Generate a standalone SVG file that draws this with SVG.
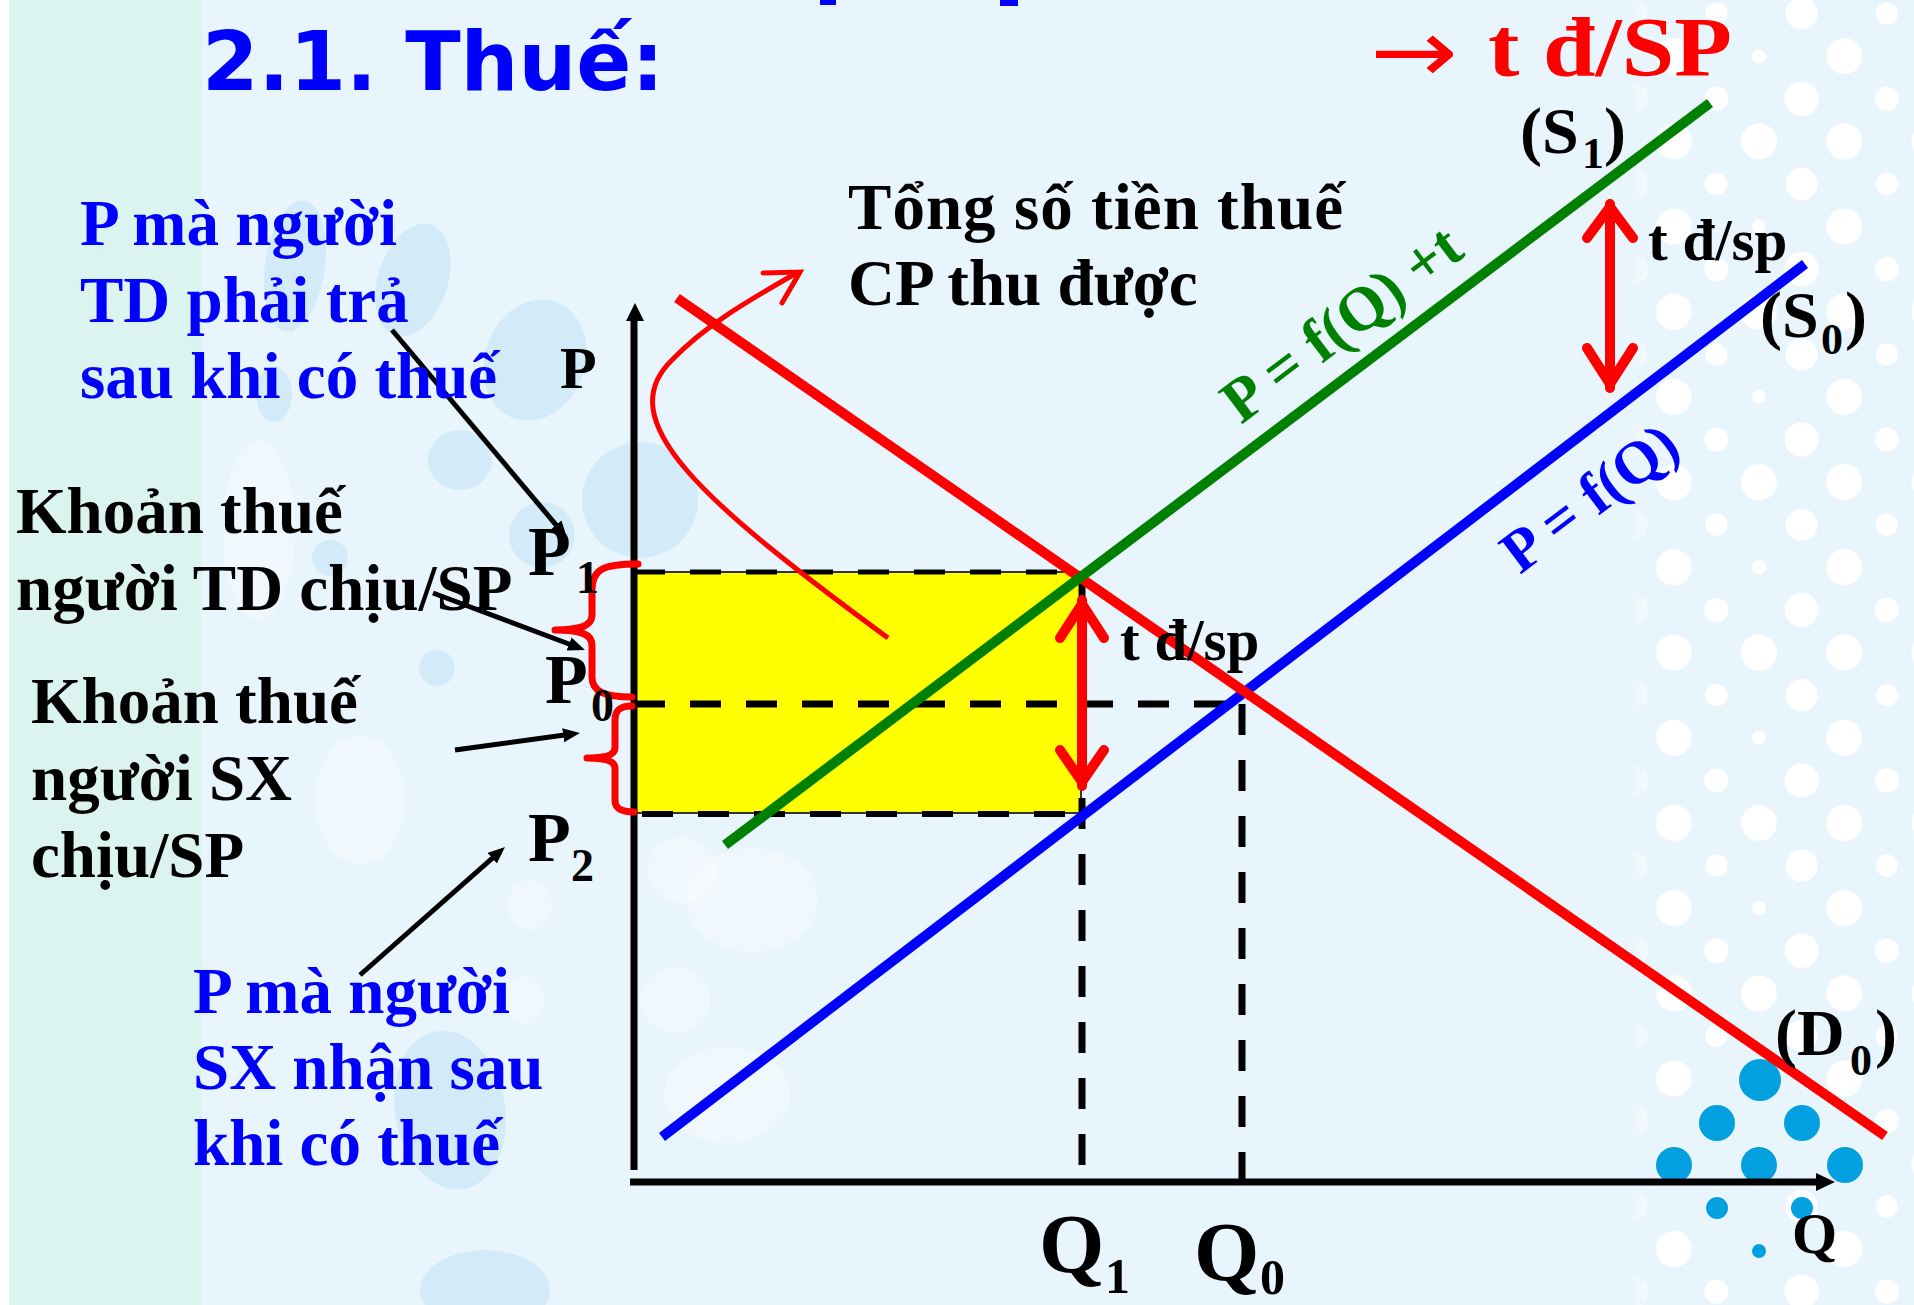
<svg xmlns="http://www.w3.org/2000/svg" width="1914" height="1305" viewBox="0 0 1914 1305">
<defs>
<style>
.t{font-family:"Liberation Serif","Times New Roman",serif;font-weight:bold}
.bl{fill:#0000FF}
.bk{fill:#000000}
.rd{fill:#FF0000}
.gn{fill:#008000}
.dash{stroke:#000;stroke-dasharray:31 25;fill:none}
.curve{fill:none;stroke-linecap:butt}
.arr{fill:none;stroke:#FF0000;stroke-width:10;stroke-linecap:round;stroke-linejoin:miter}
.brace{fill:none;stroke:#FF0000;stroke-width:7;stroke-linecap:round;stroke-linejoin:round}
.pt{fill:none;stroke:#000;stroke-width:5}
.bub{fill:#c4e5f5;opacity:0.6}
.wb{fill:#f7fcfe;opacity:0.5}
.bd{fill:#03A0E0}
</style>
<pattern id="dots" patternUnits="userSpaceOnUse" x="1652.5" y="801.7" width="170.4" height="170.4">
<g fill="#ffffff">
<circle cx="21.3" cy="21.3" r="18"/>
<circle cx="106.5" cy="21.3" r="18"/>
<circle cx="63.9" cy="63.9" r="11"/>
<circle cx="149.1" cy="63.9" r="16"/>
<circle cx="21.3" cy="106.5" r="18"/>
<circle cx="106.5" cy="106.5" r="7"/>
<circle cx="63.9" cy="149.1" r="12"/>
<circle cx="149.1" cy="149.1" r="17"/>
</g>
</pattern>
<linearGradient id="fade" gradientUnits="userSpaceOnUse" x1="1630" y1="0" x2="1662" y2="0">
<stop offset="0" stop-color="#fff" stop-opacity="0"/>
<stop offset="1" stop-color="#fff" stop-opacity="1"/>
</linearGradient>
<mask id="dm"><rect x="1550" y="0" width="364" height="1305" fill="url(#fade)"/></mask>
<marker id="ah" markerUnits="userSpaceOnUse" markerWidth="20" markerHeight="16" refX="7" refY="7" orient="auto">
<path d="M0,0 L17,7 L0,14 z" fill="#000"/>
</marker>
</defs>

<g id="background">
<rect x="0" y="0" width="1914" height="1305" fill="#E9F5FC"/>
<rect x="9" y="0" width="193" height="1305" fill="#DCF4EF"/>
<rect x="0" y="0" width="9" height="1305" fill="#ffffff"/>
<ellipse class="bub" cx="295" cy="266" rx="30" ry="66" transform="rotate(8 295 266)"/>
<ellipse class="bub" cx="413" cy="280" rx="35" ry="58" transform="rotate(18 413 280)"/>
<ellipse class="bub" cx="535" cy="360" rx="50" ry="62" transform="rotate(20 535 360)"/>
<ellipse class="bub" cx="274" cy="394" rx="18" ry="28"/>
<ellipse class="bub" cx="542" cy="535" rx="33" ry="33" opacity="0.4"/>
<ellipse class="bub" cx="640" cy="500" rx="58" ry="58" opacity="0.25"/>
<ellipse class="bub" cx="460" cy="460" rx="32" ry="30"/>
<ellipse class="bub" cx="330" cy="558" rx="18" ry="18"/>
<ellipse class="wb" cx="259" cy="530" rx="36" ry="90"/>
<ellipse class="bub" cx="437" cy="668" rx="18" ry="18" opacity="0.35"/>
<ellipse class="wb" cx="360" cy="800" rx="45" ry="65"/>
<ellipse class="wb" cx="682" cy="870" rx="35" ry="33"/>
<ellipse class="wb" cx="752" cy="900" rx="66" ry="52"/>
<ellipse class="wb" cx="675" cy="1000" rx="35" ry="33"/>
<ellipse class="wb" cx="727" cy="1095" rx="63" ry="48"/>
<ellipse class="bub" cx="450" cy="1110" rx="55" ry="80" transform="rotate(-10 450 1110)" opacity="0.35"/>
<ellipse class="bub" cx="485" cy="1290" rx="65" ry="40" opacity="0.45"/>
<ellipse class="wb" cx="530" cy="905" rx="22" ry="25"/>
<ellipse class="wb" cx="525" cy="1000" rx="20" ry="25"/>
<rect x="1550" y="0" width="364" height="1305" fill="url(#dots)" mask="url(#dm)"/>
<circle class="bd" cx="1760" cy="1080" r="21"/>
<circle class="bd" cx="1717" cy="1123" r="18"/>
<circle class="bd" cx="1802" cy="1123" r="18"/>
<circle class="bd" cx="1674" cy="1165" r="18"/>
<circle class="bd" cx="1759" cy="1165" r="18"/>
<circle class="bd" cx="1845" cy="1165" r="18"/>
<circle class="bd" cx="1717" cy="1208" r="11"/>
<circle class="bd" cx="1802" cy="1208" r="11"/>
<circle class="bd" cx="1759" cy="1251" r="7"/>
<rect x="820" y="0" width="16" height="5" fill="#0000FF"/>
<rect x="1000" y="0" width="18" height="6" fill="#0000FF"/>
</g>

<g id="tax-area">
<rect x="634" y="572" width="447" height="241" fill="#FFFF00" stroke="#333" stroke-width="2"/>
</g>

<g id="connectors">
<line class="dash" x1="634" y1="572" x2="1081" y2="572" stroke-width="5"/>
<line class="dash" x1="634" y1="704" x2="1241" y2="704" stroke-width="7"/>
<line class="dash" x1="642" y1="814" x2="1081" y2="814" stroke-width="6"/>
<line class="dash" x1="1082" y1="574" x2="1082" y2="1180" stroke-width="7"/>
<line class="dash" x1="1242" y1="704" x2="1242" y2="1180" stroke-width="7"/>

<line x1="634" y1="1170" x2="634" y2="318" stroke="#000" stroke-width="7"/>
<polygon points="635,303 626,321 644,321" fill="#000"/>
<line x1="630" y1="1182" x2="1820" y2="1182" stroke="#000" stroke-width="7"/>
<polygon points="1835,1182 1816,1173 1816,1191" fill="#000"/>

<path class="curve" d="M 888 638 C 700 500, 610 420, 672 360 C 705 325, 750 300, 798 272" stroke="#FF0000" stroke-width="5"/>
<polyline points="763,273 800,272 782,303" fill="none" stroke="#FF0000" stroke-width="5" stroke-linecap="round" stroke-linejoin="miter"/>

<line id="S0" x1="662" y1="1137" x2="1805" y2="264" stroke="#0000FF" stroke-width="10"/>
<line id="D0" x1="677" y1="298" x2="1885" y2="1136" stroke="#FF0000" stroke-width="10"/>
<line id="S1" x1="725" y1="845" x2="1710" y2="103" stroke="#008000" stroke-width="10"/>

<line class="arr" x1="1082" y1="600" x2="1082" y2="786"/>
<polyline class="arr" points="1060,638 1082,604 1104,638"/>
<polyline class="arr" points="1060,750 1082,782 1104,750"/>
<line class="arr" x1="1610" y1="204" x2="1610" y2="388"/>
<polyline class="arr" points="1587,238 1610,207 1633,238"/>
<polyline class="arr" points="1587,348 1610,384 1633,348"/>

<path class="brace" d="M 638 564 C 602 564, 592 570, 592 590 L 592 615 C 592 626, 580 630, 555 630 C 580 630, 592 634, 592 645 L 592 677 C 592 692, 605 697, 632 697"/>
<path class="brace" d="M 632 706 C 620 706, 615 710, 615 720 L 615 748 C 615 755, 605 758, 587 758 C 605 758, 615 761, 615 768 L 615 800 C 615 808, 620 812, 634 812"/>

<line class="pt" x1="392" y1="330" x2="560.6" y2="530.3" marker-end="url(#ah)"/>
<line class="pt" x1="433" y1="593" x2="575.6" y2="646.5" marker-end="url(#ah)"/>
<line class="pt" x1="455" y1="750" x2="570.1" y2="734.3" marker-end="url(#ah)"/>
<line class="pt" x1="360" y1="975" x2="497.5" y2="853.6" marker-end="url(#ah)"/>
</g>

<g id="title">
<text x="202" y="90" font-family="DejaVu Sans, Verdana, sans-serif" font-weight="bold" font-size="82" fill="#0000FF" textLength="462" lengthAdjust="spacingAndGlyphs">2.1. Thuế:</text>
</g>

<g id="tax-per-unit">
<text x="1370" y="82" font-family="DejaVu Sans, sans-serif" font-size="88" fill="#FF0000" textLength="88" lengthAdjust="spacingAndGlyphs">→</text>
<text class="t rd" x="1488" y="76" font-size="84" textLength="244" lengthAdjust="spacingAndGlyphs">t đ/SP</text>
</g>

<g id="label-consumer-price">
<text class="t bl" font-size="65"><tspan x="80" y="245">P mà người</tspan><tspan x="80" y="322">TD phải trả</tspan><tspan x="80" y="398">sau khi có thuế</tspan></text>
</g>

<g id="label-consumer-tax">
<text class="t bk" font-size="65"><tspan x="16" y="533">Khoản thuế</tspan><tspan x="16" y="610">người TD chịu/SP</tspan></text>
</g>

<g id="label-producer-tax">
<text class="t bk" font-size="65"><tspan x="31" y="723">Khoản thuế</tspan><tspan x="31" y="800">người SX</tspan><tspan x="31" y="877">chịu/SP</tspan></text>
</g>

<g id="label-producer-price">
<text class="t bl" font-size="65"><tspan x="193" y="1013">P mà người</tspan><tspan x="193" y="1089">SX nhận sau</tspan><tspan x="193" y="1165">khi có thuế</tspan></text>
</g>

<g id="label-revenue">
<text class="t bk" x="848" y="229" font-size="65" textLength="495">Tổng số tiền thuế</text>
<text class="t bk" x="848" y="305" font-size="65">CP thu được</text>
</g>

<g id="axis-labels">
<text class="t bk" x="560" y="388" font-size="60">P</text>
<text class="t bk" x="1792" y="1253" font-size="58">Q</text>
<text class="t bk"><tspan x="528" y="575" font-size="70">P</tspan><tspan x="576" y="593" font-size="46">1</tspan></text>
<text class="t bk"><tspan x="545" y="703" font-size="70">P</tspan><tspan x="591" y="721" font-size="46">0</tspan></text>
<text class="t bk"><tspan x="528" y="861" font-size="70">P</tspan><tspan x="571" y="881" font-size="46">2</tspan></text>
<text class="t bk"><tspan x="1039" y="1273" font-size="84">Q</tspan><tspan x="1105" y="1293" font-size="50">1</tspan></text>
<text class="t bk"><tspan x="1194" y="1281" font-size="84">Q</tspan><tspan x="1260" y="1294" font-size="50">0</tspan></text>
</g>

<g id="curve-labels">
<text class="t bk"><tspan x="1520" y="153" font-size="66">(S</tspan><tspan x="1582" y="168" font-size="44">1</tspan><tspan x="1604" y="153" font-size="66">)</tspan></text>
<text class="t bk"><tspan x="1760" y="337" font-size="66">(S</tspan><tspan x="1821" y="354" font-size="44">0</tspan><tspan x="1845" y="337" font-size="66">)</tspan></text>
<text class="t bk"><tspan x="1775" y="1055" font-size="66">(D</tspan><tspan x="1850" y="1075" font-size="44">0</tspan><tspan x="1875" y="1055" font-size="66">)</tspan></text>
<text class="t gn" font-size="62" transform="translate(1241 425) rotate(-37)">P = f(Q) +t</text>
<text class="t bl" font-size="60" transform="translate(1520 575) rotate(-37)">P = f(Q)</text>
<text class="t bk" x="1648" y="260" font-size="59">t đ/sp</text>
<text class="t bk" x="1120" y="660" font-size="59">t đ/sp</text>
</g>
</svg>
